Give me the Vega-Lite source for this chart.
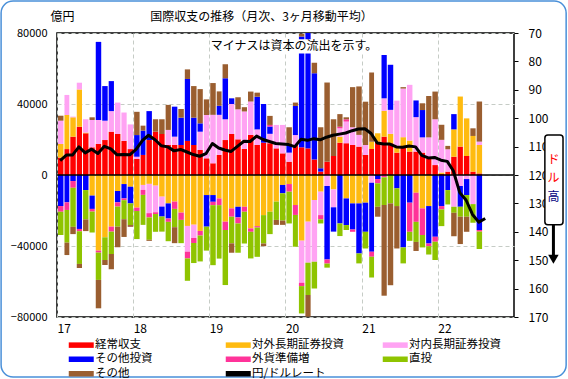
{
  "$schema": "https://vega.github.io/schema/vega-lite/v6.json",
  "width": 457,
  "height": 284,
  "autosize": {"type": "none"},
  "padding": {"left": 57, "top": 33, "right": 54, "bottom": 62},
  "background": "white",
  "config": {
    "font": "Noto Sans CJK JP",
    "view": {"stroke": "black", "strokeWidth": 1.5},
    "axis": {"labelFont": "Noto Sans CJK JP", "labelColor": "black", "titleFont": "Noto Sans CJK JP", "titleColor": "black", "titleFontWeight": "normal"}
  },
  "title": {"text": "国際収支の推移（月次、3ヶ月移動平均）", "fontSize": 12, "fontWeight": "normal", "dx": -24, "offset": -24, "color": "black"},
  "datasets": {
    "order": [
      {"k": "ca", "series": "経常収支", "ord": 1},
      {"k": "out", "series": "対外長期証券投資", "ord": 2},
      {"k": "inn", "series": "対内長期証券投資", "ord": 3},
      {"k": "oth", "series": "その他投資", "ord": 4},
      {"k": "res", "series": "外貨準備増", "ord": 5},
      {"k": "fdi", "series": "直投", "ord": 6},
      {"k": "misc", "series": "その他", "ord": 7}
    ],
    "bop": [
      {"m": "2017-01-01", "ca": 9800, "out": 7700, "inn": 13100, "misc": 2800, "oth": -17500, "res": -3200, "fdi": -13100},
      {"m": "2017-02-01", "ca": 14600, "out": 19200, "inn": 11300, "oth": -15400, "res": -4300, "fdi": -18400, "misc": -7000},
      {"m": "2017-03-01", "ca": 21600, "out": 10900, "inn": 400, "oth": -3400, "res": -3800, "fdi": -22000, "misc": -4100},
      {"m": "2017-04-01", "ca": 27200, "out": 21000, "inn": 3800, "oth": -30400, "res": -1300, "fdi": -18400, "misc": -2300},
      {"m": "2017-05-01", "ca": 23500, "out": 400, "inn": 7500, "oth": -8500, "fdi": -16500, "misc": -6600},
      {"m": "2017-06-01", "ca": 15600, "inn": 15400, "misc": 1500, "out": -11600, "oth": -7500, "res": -1500, "fdi": -11800},
      {"m": "2017-07-01", "ca": 17500, "inn": 13500, "oth": 44000, "out": -42600, "res": -1100, "fdi": -15400, "misc": -16000},
      {"m": "2017-08-01", "ca": 19700, "inn": 10900, "oth": 19500, "out": -35100, "fdi": -12800, "misc": -2800},
      {"m": "2017-09-01", "ca": 24400, "inn": 11600, "oth": 16900, "out": -29100, "res": -2800, "fdi": -12600, "misc": -8600},
      {"m": "2017-10-01", "ca": 23100, "inn": 17700, "out": -9000, "oth": -6400, "res": -2400, "fdi": -11300, "misc": -11600},
      {"m": "2017-11-01", "ca": 19200, "inn": 16000, "out": -5100, "oth": -8100, "res": -1000, "fdi": -10700, "misc": -10000},
      {"m": "2017-12-01", "ca": 14600, "inn": 13900, "out": -6600, "oth": -9400, "fdi": -12200, "misc": -1000},
      {"m": "2018-01-01", "ca": 9000, "inn": 1300, "oth": 12200, "misc": 13100, "out": -18400, "res": -1900, "fdi": -15800},
      {"m": "2018-02-01", "ca": 11300, "oth": 13700, "misc": 2800, "out": -5600, "inn": -2800, "res": -2800, "fdi": -16900},
      {"m": "2018-03-01", "ca": 19700, "oth": 16300, "out": -5000, "inn": -16500, "res": -2400, "fdi": -12600, "misc": -600},
      {"m": "2018-04-01", "ca": 24400, "misc": 7000, "out": -6000, "inn": -15000, "res": -1000, "fdi": -10000},
      {"m": "2018-05-01", "ca": 23100, "misc": 8300, "out": -12200, "inn": -5600, "oth": -5600, "fdi": -8500},
      {"m": "2018-06-01", "ca": 16900, "inn": 8500, "misc": 14100, "out": -16000, "oth": -8500, "res": -1900, "fdi": -10900},
      {"m": "2018-07-01", "ca": 16900, "inn": 4700, "oth": 16900, "out": -15000, "res": -4100, "fdi": -10300, "misc": -9000},
      {"m": "2018-08-01", "ca": 16900, "oth": 15400, "misc": 4900, "out": -21200, "res": -4100, "fdi": -13100},
      {"m": "2018-09-01", "ca": 19200, "oth": 34900, "misc": 5400, "out": -28700, "inn": -14500, "res": -3800, "fdi": -12600},
      {"m": "2018-10-01", "ca": 16900, "oth": 15400, "misc": 17800, "out": -28000, "inn": -7500, "res": -2800, "fdi": -11300},
      {"m": "2018-11-01", "ca": 14100, "inn": 10300, "oth": 4700, "misc": 19300, "out": -31500, "res": -2600, "fdi": -14600},
      {"m": "2018-12-01", "ca": 9400, "inn": 24400, "misc": 8800, "out": -11300, "oth": -17800, "fdi": -13500},
      {"m": "2019-01-01", "ca": 6600, "inn": 27300, "misc": 17900, "out": -11300, "oth": -3800, "res": -1900, "fdi": -33800},
      {"m": "2019-02-01", "ca": 11300, "inn": 22600, "oth": 5100, "misc": 8100, "out": -13200, "res": -3800, "fdi": -30100},
      {"m": "2019-03-01", "ca": 19700, "inn": 11700, "oth": 23100, "misc": 7900, "out": -26300, "res": -4700, "fdi": -31000},
      {"m": "2019-04-01", "ca": 23100, "inn": 16900, "oth": 3200, "out": -18800, "res": -4700, "fdi": -15000, "misc": -5300},
      {"m": "2019-05-01", "ca": 20100, "inn": 16900, "misc": 6800, "out": -17900, "oth": -6000, "res": -3400, "fdi": -16500},
      {"m": "2019-06-01", "ca": 14700, "inn": 21100, "misc": 2400, "out": -17900, "res": -2800, "fdi": -17900},
      {"m": "2019-07-01", "ca": 22600, "inn": 18800, "misc": 5600, "out": -30100, "res": -1900, "fdi": -15000},
      {"m": "2019-08-01", "ca": 16900, "inn": 8800, "oth": 18400, "misc": 2300, "out": -28800, "res": -800, "fdi": -16500},
      {"m": "2019-09-01", "ca": 18200, "oth": 21800, "out": -22600, "fdi": -16000, "misc": -1500},
      {"m": "2019-10-01", "ca": 17900, "inn": 5300, "oth": 4100, "res": 900, "misc": 5100, "out": -20700, "fdi": -12600},
      {"m": "2019-11-01", "ca": 15000, "inn": 13200, "out": -15000, "fdi": -10300, "misc": -2800},
      {"m": "2019-12-01", "ca": 12200, "inn": 16000, "out": -5600, "oth": -4700, "fdi": -15400, "misc": -2400},
      {"m": "2020-01-01", "ca": 7500, "inn": 5100, "oth": 4300, "misc": 10000, "out": -5100, "res": -4300, "fdi": -17900},
      {"m": "2020-02-01", "ca": 16900, "inn": 5600, "oth": 16400, "misc": 1900, "out": -16900, "res": -5600, "fdi": -17900},
      {"m": "2020-03-01", "ca": 15600, "oth": 62400, "misc": 1500, "out": -37000, "inn": -23700, "res": -1900, "fdi": -15400},
      {"m": "2020-04-01", "ca": 15000, "oth": 70000, "out": -26300, "inn": -23100, "fdi": -18200, "misc": -12200},
      {"m": "2020-05-01", "ca": 8800, "oth": 48500, "misc": 6000, "out": -14100, "inn": -34800, "fdi": -15000},
      {"m": "2020-06-01", "ca": 1900, "oth": 1900, "misc": 23100, "out": -9400, "inn": -13200, "res": -2400, "fdi": -2300},
      {"m": "2020-07-01", "ca": 7500, "misc": 44600, "inn": -6200, "oth": -41400, "res": -2300, "fdi": -2300},
      {"m": "2020-08-01", "ca": 10700, "misc": 20700, "out": -8100, "inn": -10100, "oth": -13700},
      {"m": "2020-09-01", "ca": 18200, "out": 3400, "inn": 4700, "res": 900, "misc": 7100, "oth": -27300, "fdi": -7100},
      {"m": "2020-10-01", "ca": 17900, "inn": 12200, "res": 1300, "misc": 1100, "out": -13200, "oth": -15000, "fdi": -2800},
      {"m": "2020-11-01", "ca": 16900, "inn": 10000, "misc": 22600, "out": -16000, "oth": -14700, "res": -1300},
      {"m": "2020-12-01", "ca": 16000, "inn": 6600, "misc": 27300, "out": -16000, "oth": -28200, "fdi": -5600},
      {"m": "2021-01-01", "ca": 11300, "inn": 5600, "misc": 24400, "out": -15600, "oth": -16400, "fdi": -9400},
      {"m": "2021-02-01", "ca": 14700, "out": 4100, "misc": 38900, "inn": -4300, "oth": -38900, "res": -2800, "fdi": -11700},
      {"m": "2021-03-01", "ca": 18800, "out": 4700, "oth": -2300, "res": -2400, "fdi": -13200, "misc": -5600},
      {"m": "2021-04-01", "ca": 21600, "out": 14500, "inn": 7100, "oth": 24400, "res": -1300, "fdi": -15600, "misc": -51100},
      {"m": "2021-05-01", "ca": 17900, "out": 5300, "inn": 13500, "oth": 25400, "fdi": -16000, "misc": -46100},
      {"m": "2021-06-01", "ca": 12600, "out": 3000, "inn": 26300, "oth": -7500, "fdi": -10000, "misc": -23900},
      {"m": "2021-07-01", "ca": 16000, "out": 5300, "inn": 27400, "misc": 800, "oth": -40800, "fdi": -9000},
      {"m": "2021-08-01", "ca": 13200, "out": 6200, "inn": 31400, "oth": -15600, "res": -16400, "fdi": -5100},
      {"m": "2021-09-01", "ca": 13200, "inn": 19400, "oth": 9400, "out": -10000, "res": -16400, "fdi": -11300, "misc": -5100},
      {"m": "2021-10-01", "ca": 12600, "inn": 8600, "oth": 15400, "misc": 3800, "out": -18800, "res": -15000, "fdi": -7000},
      {"m": "2021-11-01", "ca": 9400, "inn": 11800, "misc": 23300, "out": -17500, "oth": -21100, "res": -1500, "fdi": -4700},
      {"m": "2021-12-01", "ca": 5600, "inn": 25800, "misc": 15600, "oth": -34800, "res": -2800, "fdi": -10300},
      {"m": "2022-01-01", "ca": 600, "out": 800, "inn": 18400, "misc": 8500, "oth": -17500, "res": -1900, "fdi": -9400},
      {"m": "2022-02-01", "ca": 1900, "inn": 12600, "misc": 1900, "oth": -8500, "fdi": -8100},
      {"m": "2022-03-01", "ca": 10300, "out": 15400, "oth": 8600, "inn": -17900, "fdi": -3400, "misc": -13200},
      {"m": "2022-04-01", "ca": 16000, "out": 28200, "inn": -6200, "oth": -11700, "fdi": -5600, "misc": -15400},
      {"m": "2022-05-01", "ca": 10700, "out": 21200, "inn": -2300, "oth": -9000, "fdi": -12200, "misc": -8500},
      {"m": "2022-06-01", "ca": 1900, "out": 20100, "misc": 4300, "inn": -16400, "fdi": -10500},
      {"m": "2022-07-01", "ca": 900, "out": 16000, "inn": 1900, "misc": 22600, "oth": -31000, "res": -900, "fdi": -9800}
    ],
    "fx": [
      {"d": "2017-01-16", "r": 114.9}, {"d": "2017-02-15", "r": 113.0}, {"d": "2017-03-16", "r": 113.0}, {"d": "2017-04-16", "r": 110.1},
      {"d": "2017-05-16", "r": 112.2}, {"d": "2017-06-16", "r": 110.9}, {"d": "2017-07-16", "r": 112.4}, {"d": "2017-08-16", "r": 109.9},
      {"d": "2017-09-16", "r": 110.8}, {"d": "2017-10-16", "r": 112.9}, {"d": "2017-11-16", "r": 112.8}, {"d": "2017-12-16", "r": 112.9},
      {"d": "2018-01-16", "r": 110.9}, {"d": "2018-02-15", "r": 107.8}, {"d": "2018-03-16", "r": 106.0}, {"d": "2018-04-16", "r": 107.6},
      {"d": "2018-05-16", "r": 109.7}, {"d": "2018-06-16", "r": 110.1}, {"d": "2018-07-16", "r": 111.5}, {"d": "2018-08-16", "r": 111.0},
      {"d": "2018-09-16", "r": 111.9}, {"d": "2018-10-16", "r": 112.8}, {"d": "2018-11-16", "r": 113.4}, {"d": "2018-12-16", "r": 112.5},
      {"d": "2019-01-16", "r": 108.9}, {"d": "2019-02-15", "r": 110.5}, {"d": "2019-03-16", "r": 111.2}, {"d": "2019-04-16", "r": 111.7},
      {"d": "2019-05-16", "r": 109.9}, {"d": "2019-06-16", "r": 108.1}, {"d": "2019-07-16", "r": 108.2}, {"d": "2019-08-16", "r": 106.3},
      {"d": "2019-09-16", "r": 107.5}, {"d": "2019-10-16", "r": 108.2}, {"d": "2019-11-16", "r": 108.9}, {"d": "2019-12-16", "r": 109.1},
      {"d": "2020-01-16", "r": 109.3}, {"d": "2020-02-15", "r": 110.0}, {"d": "2020-03-16", "r": 107.4}, {"d": "2020-04-16", "r": 107.8},
      {"d": "2020-05-16", "r": 107.2}, {"d": "2020-06-16", "r": 107.6}, {"d": "2020-07-16", "r": 106.7}, {"d": "2020-08-16", "r": 106.0},
      {"d": "2020-09-16", "r": 105.6}, {"d": "2020-10-16", "r": 105.2}, {"d": "2020-11-16", "r": 104.4}, {"d": "2020-12-16", "r": 103.8},
      {"d": "2021-01-16", "r": 103.7}, {"d": "2021-02-15", "r": 105.4}, {"d": "2021-03-16", "r": 108.7}, {"d": "2021-04-16", "r": 109.1},
      {"d": "2021-05-16", "r": 109.1}, {"d": "2021-06-16", "r": 110.1}, {"d": "2021-07-16", "r": 110.2}, {"d": "2021-08-16", "r": 109.8},
      {"d": "2021-09-16", "r": 110.1}, {"d": "2021-10-16", "r": 113.1}, {"d": "2021-11-16", "r": 114.0}, {"d": "2021-12-16", "r": 113.8},
      {"d": "2022-01-16", "r": 114.8}, {"d": "2022-02-15", "r": 115.2}, {"d": "2022-03-16", "r": 118.5}, {"d": "2022-04-16", "r": 126.2},
      {"d": "2022-05-16", "r": 128.8}, {"d": "2022-06-16", "r": 133.9}, {"d": "2022-07-16", "r": 136.6}, {"d": "2022-08-16", "r": 135.3}
    ],
    "deco": [{"t": "マイナスは資本の流出を示す。"}]
  },
  "layer": [
    {
      "layer": [
        {
          "data": {"name": "deco"},
          "mark": {"type": "rect", "fill": null, "stroke": "#4a90d9", "strokeWidth": 1.5, "cornerRadius": 12, "clip": false},
          "encoding": {
            "x": {"datum": {"year": 2016, "month": 4, "date": 8}, "type": "temporal"},
            "x2": {"datum": {"year": 2023, "month": 9, "date": 8}},
            "y": {"datum": 98000, "type": "quantitative"},
            "y2": {"datum": -113800}
          }
        },
        {
          "data": {"name": "bop"},
          "transform": [
            {"fold": ["ca", "out", "inn", "oth", "res", "fdi", "misc"], "as": ["k", "v"]},
            {"filter": "isValid(datum.v)"},
            {"lookup": "k", "from": {"data": {"name": "order"}, "key": "k", "fields": ["series", "ord"]}}
          ],
          "mark": {"type": "bar", "timeUnitBandSize": 0.8, "clip": true},
          "encoding": {
            "x": {
              "field": "m", "timeUnit": "yearmonth", "type": "temporal",
              "scale": {"domain": [{"year": 2017, "month": 1, "date": 1}, {"year": 2023, "month": 1, "date": 1}]},
              "axis": {
                "title": null, "orient": "bottom", "format": "%y",
                "values": [{"year": 2017, "month": 1, "date": 1}, {"year": 2018, "month": 1, "date": 1}, {"year": 2019, "month": 1, "date": 1}, {"year": 2020, "month": 1, "date": 1}, {"year": 2021, "month": 1, "date": 1}, {"year": 2022, "month": 1, "date": 1}],
                "labelFontSize": 12, "labelAlign": "left", "labelPadding": 6, "labelFlush": false,
                "ticks": false, "domain": false,
                "grid": true, "gridDash": [4, 3], "gridColor": "#c6ccc6", "gridWidth": 1
              }
            },
            "y": {
              "field": "v", "type": "quantitative", "stack": "zero",
              "scale": {"domain": [-80000, 80000], "nice": false, "zero": false},
              "axis": {
                "title": "億円", "titleAngle": 0, "titleAlign": "left", "titleBaseline": "middle", "titleX": -7, "titleY": -17, "titleFontSize": 12,
                "values": [-80000, -60000, -40000, -20000, 0, 20000, 40000, 60000, 80000],
                "format": "d", "labelFontSize": 11, "labelPadding": 10, "ticks": false, "domain": false,
                "grid": true, "gridDash": [4, 3], "gridColor": "#c6ccc6", "gridWidth": 1
              }
            },
            "color": {
              "field": "series", "type": "nominal",
              "scale": {
                "domain": ["経常収支", "対外長期証券投資", "対内長期証券投資", "その他投資", "外貨準備増", "直投", "その他", "円/ドルレート"],
                "range": ["#ff0000", "#ffbb10", "#ffa3f3", "#0000ff", "#ff3399", "#8fc400", "#9a5e30", "#000000"]
              },
              "legend": {
                "title": null, "orient": "none", "legendX": 18.5, "legendY": 306, "columns": 3, "direction": "horizontal",
                "gridAlign": "all", "columnPadding": 38, "rowPadding": 1.5,
                "symbolType": "M-2.5,-0.55H2.5V0.55H-2.5Z", "symbolSize": 100, "symbolStrokeWidth": 0,
                "labelFontSize": 11.5, "labelOffset": 8, "labelColor": "black", "labelFont": "Noto Sans CJK JP"
              }
            },
            "order": {"field": "ord", "type": "quantitative"}
          }
        },
        {
          "data": {"name": "deco"},
          "mark": {"type": "rule", "color": "black", "strokeWidth": 1.5},
          "encoding": {"y": {"datum": 0, "type": "quantitative"}}
        },
        {
          "data": {"name": "deco"},
          "mark": {"type": "rect", "fill": "white"},
          "encoding": {
            "x": {"datum": {"year": 2019, "month": 1, "date": 5}, "type": "temporal"},
            "x2": {"datum": {"year": 2021, "month": 2, "date": 10}},
            "y": {"datum": 76500, "type": "quantitative"},
            "y2": {"datum": 68500}
          }
        },
        {
          "data": {"name": "deco"},
          "mark": {"type": "text", "align": "left", "baseline": "middle", "fontSize": 12, "color": "black", "font": "Noto Sans CJK JP"},
          "encoding": {
            "x": {"datum": {"year": 2019, "month": 1, "date": 8}, "type": "temporal"},
            "y": {"datum": 72500, "type": "quantitative"},
            "text": {"field": "t"}
          }
        },
        {
          "data": {"name": "deco"},
          "mark": {"type": "rect", "fill": "white", "stroke": "black", "strokeWidth": 1.5, "cornerRadius": 3, "clip": false},
          "encoding": {
            "x": {"datum": {"year": 2023, "month": 5, "date": 29}, "type": "temporal"},
            "x2": {"datum": {"year": 2023, "month": 8, "date": 24}},
            "y": {"datum": 22500, "type": "quantitative"},
            "y2": {"datum": -28000}
          }
        },
        {
          "data": {"name": "deco"},
          "mark": {"type": "rule", "color": "black", "strokeWidth": 3, "clip": false},
          "encoding": {
            "x": {"datum": {"year": 2023, "month": 7, "date": 9}, "type": "temporal"},
            "y": {"datum": -28000, "type": "quantitative"},
            "y2": {"datum": -46500}
          }
        },
        {
          "data": {"name": "deco"},
          "mark": {"type": "point", "shape": "triangle-down", "filled": true, "color": "black", "size": 110, "opacity": 1, "clip": false},
          "encoding": {
            "x": {"datum": {"year": 2023, "month": 7, "date": 9}, "type": "temporal"},
            "y": {"datum": -47500, "type": "quantitative"}
          }
        },
        {
          "data": {"values": [{"c": "ド", "y": 8400, "col": "#ff0000"}, {"c": "ル", "y": -1700, "col": "#ff0000"}, {"c": "高", "y": -12400, "col": "#000080"}]},
          "mark": {"type": "text", "fontSize": 12, "baseline": "middle", "align": "center", "font": "Noto Sans CJK JP", "clip": false},
          "encoding": {
            "x": {"datum": {"year": 2023, "month": 7, "date": 9}, "type": "temporal"},
            "y": {"field": "y", "type": "quantitative"},
            "text": {"field": "c"},
            "color": {"field": "col", "type": "nominal", "scale": null}
          }
        }
      ]
    },
    {
      "data": {"name": "fx"},
      "mark": {"type": "line", "color": "black", "strokeWidth": 3, "strokeJoin": "round", "clip": false},
      "encoding": {
        "x": {"field": "d", "type": "temporal"},
        "y": {
          "field": "r", "type": "quantitative",
          "scale": {"domain": [70, 170], "reverse": true, "nice": false, "zero": false},
          "axis": {
            "title": null, "orient": "right", "values": [70, 80, 90, 100, 110, 120, 130, 140, 150, 160, 170],
            "labelFontSize": 12, "labelPadding": 10, "tickSize": 4, "tickColor": "black", "domain": false, "grid": false
          }
        },
        "color": {"datum": "円/ドルレート"}
      }
    }
  ],
  "resolve": {"scale": {"y": "independent"}}
}
